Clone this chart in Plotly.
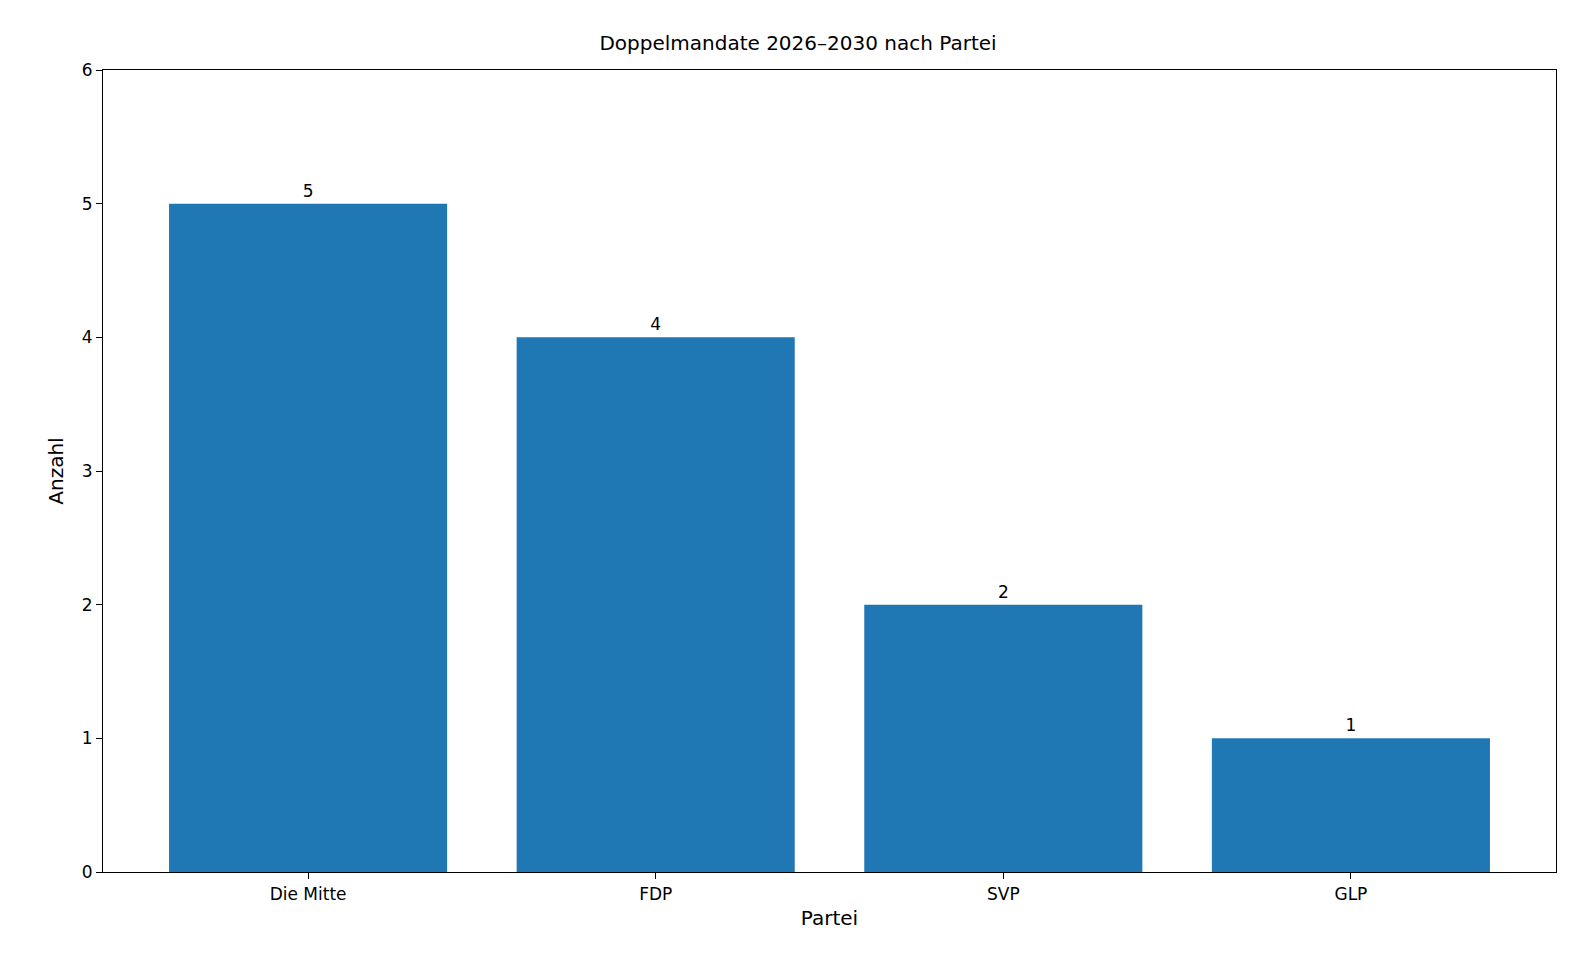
import plotly.graph_objects as go

parteien = ['Die Mitte', 'FDP', 'SVP', 'GLP']
anzahl = [5, 4, 2, 1]

fig = go.Figure()
fig.add_trace(go.Bar(
    x=list(range(len(parteien))), y=anzahl, width=0.8,
    marker=dict(color='#1f77b4', line=dict(width=0)),
    text=[str(v) for v in anzahl], textposition='outside',
    textfont=dict(size=17, color='black'), cliponaxis=False,
))

fig.update_layout(
    width=1580, height=977,
    margin=dict(l=95, r=32, t=62, b=113),
    paper_bgcolor='white', plot_bgcolor='white',
    font=dict(family='DejaVu Sans', size=17, color='black'),
    title=dict(text='Doppelmandate 2026–2030 nach Partei', x=0.5, xanchor='center',
               y=1 - 35 / 977, yanchor='middle', font=dict(size=20)),
    showlegend=False,
)
fig.update_xaxes(
    range=[-0.59, 3.59], tickvals=list(range(len(parteien))), ticktext=parteien,
    showline=True, linecolor='black', linewidth=1.2, mirror=True,
    ticks='outside', ticklen=6, tickcolor='black', showgrid=False, zeroline=False,
    title=dict(text='Partei', standoff=8),
)
fig.update_yaxes(
    range=[0, 6], dtick=1,
    showline=True, linecolor='black', linewidth=1.2, mirror=True,
    ticks='outside', ticklen=6, tickcolor='black', showgrid=False, zeroline=False,
    title=dict(text='Anzahl', standoff=12),
)

fig.write_html("out.html")
